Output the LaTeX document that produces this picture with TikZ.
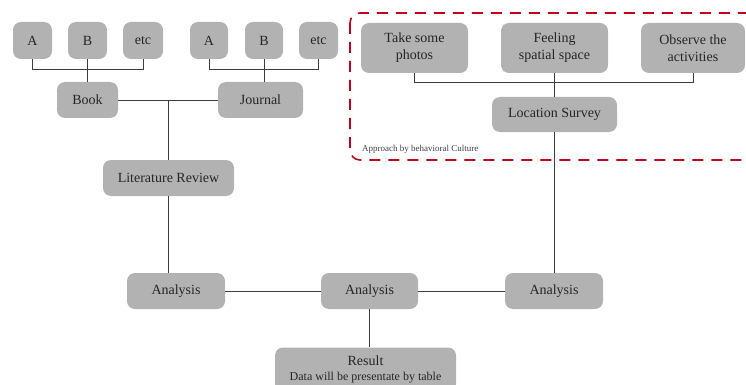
\documentclass[tikz,border=0pt]{standalone}
\usepackage{fontspec}
\setmainfont{Liberation Serif}
\newfontfamily\diagfont{Liberation Serif}
\definecolor{boxgray}{HTML}{B2B2B2}
\definecolor{linegray}{HTML}{3C3C3C}
\definecolor{surveyred}{HTML}{C0001C}

\begin{document}
\begin{tikzpicture}[x=1pt,y=-1pt,
  box/.style={fill=boxgray,rounded corners=8pt,minimum height=36pt,inner sep=2pt,
    align=center,text=black!85,font=\diagfont\fontsize{14}{17}\selectfont},
  link/.style={draw=linegray,line width=0.8pt},
  surveyframe/.style={draw=surveyred,line width=1.6pt,dash pattern=on 11pt off 8pt,rounded corners=10pt}]
\useasboundingbox (0,0) rectangle (746,385);
\draw[surveyframe] (350,13) rectangle (775,160);
	\node[box,minimum width=39pt,minimum height=37pt] (bookA) at (32.5,40.5) {A};
	\node[box,minimum width=39pt,minimum height=37pt] (bookB) at (87.5,40.5) {B};
	\node[box,minimum width=40pt,minimum height=37pt] (bookEtc) at (143,40.5) {etc};
	\node[box,minimum width=38pt,minimum height=37pt] (jourA) at (209,40.5) {A};
	\node[box,minimum width=38pt,minimum height=37pt] (jourB) at (264,40.5) {B};
	\node[box,minimum width=39pt,minimum height=37pt] (jourEtc) at (318.5,40.5) {etc};
	\node[box,minimum width=61pt] (book) at (87.5,100) {Book};
	\node[box,minimum width=85pt] (journal) at (260.5,100) {Journal};
	\node[box,minimum width=131pt] (litrev) at (168.5,178) {Literature Review};
	\node[box,minimum width=107pt,minimum height=50pt] (photos) at (414.5,48) {Take some\\photos};
	\node[box,minimum width=107pt,minimum height=50pt] (feeling) at (554.5,48) {Feeling\\spatial space};
	\node[box,minimum width=104pt,minimum height=50pt] (observe) at (693,48) {Observe the\\activities};
	\node[box,minimum width=125pt,minimum height=35pt] (survey) at (554.5,114.5) {Location Survey};
	\node[anchor=west,inner sep=0pt,text=black!75,font=\diagfont\fontsize{9}{10}\selectfont] (approach) at (362,149) {Approach by behavioral Culture};
	\node[box,minimum width=98pt] (anLeft) at (176,291) {Analysis};
	\node[box,minimum width=97pt] (anMid) at (369.5,291) {Analysis};
	\node[box,minimum width=98pt] (anRight) at (554,291) {Analysis};
	\node[box,minimum width=181pt,minimum height=44pt] (result) at (365.5,369.5)
	  {Result\\[-2pt]{\fontsize{12}{14}\selectfont Data will be presentate by table}};
\draw[link] (bookA.south) -- ++(0,10) -| (bookEtc.south);
\draw[link] (bookB.south) -- (book.north);
\draw[link] (jourA.south) -- ++(0,10) -| (jourEtc.south);
\draw[link] (jourB.south) -- (jourB.south |- journal.north);
\draw[link] (book.east) -- (journal.west);
\coordinate (join) at (168.5,100);
\draw[link] (join) -- (litrev.north);
\draw[link] (litrev.south) -- (litrev.south |- anLeft.north);
\draw[link] (photos.south) -- ++(0,9) -| (observe.south);
\draw[link] (feeling.south) -- (survey.north);
\draw[link] (survey.south) -- (survey.south |- anRight.north);
\draw[link] (anLeft.east) -- (anMid.west);
\draw[link] (anMid.east) -- (anRight.west);
\draw[link] (anMid.south) -- (anMid.south |- result.north);
\end{tikzpicture}
\end{document}
